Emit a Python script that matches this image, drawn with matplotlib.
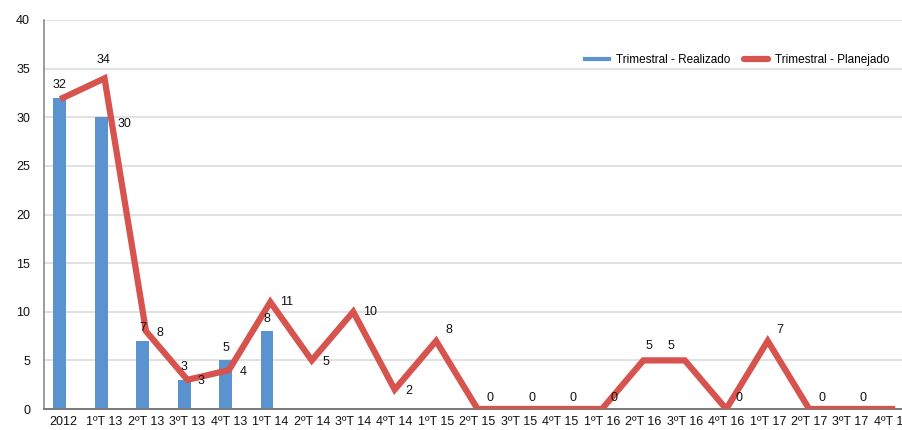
import numpy as np
import matplotlib.pyplot as plt
from matplotlib.lines import Line2D

plt.rcParams['font.family'] = ['Liberation Sans', 'DejaVu Sans']

# Dados
categorias = ['2012', '1ºT 13', '2ºT 13', '3ºT 13', '4ºT 13',
              '1ºT 14', '2ºT 14', '3ºT 14', '4ºT 14',
              '1ºT 15', '2ºT 15', '3ºT 15', '4ºT 15',
              '1ºT 16', '2ºT 16', '3ºT 16', '4ºT 16',
              '1ºT 17', '2ºT 17', '3ºT 17', '4ºT 17']
realizado = [32, 30, 7, 3, 5, 8]
planejado = [32, 34, 8, 3, 4, 11, 5, 10, 2, 7, 0, 0, 0, 0, 5, 5, 0, 7, 0, 0, 0]
rotulos_planejado = ['32', '34', '8', '3', '4', '11', '5', '10', '2', '8', '0',
                     '0', '0', '0', '5', '5', '0', '7', '0', '0', '0']

azul = '#5b93d1'
vermelho = '#d6534e'

fig = plt.figure(figsize=(9.02, 4.30), dpi=100)
ax = fig.add_axes([0.0488, 0.0488, 0.9512, 0.9047])

x = np.arange(len(categorias))
xb = x[:len(realizado)] - 0.08
ax.bar(xb, realizado, width=0.31, color=azul, zorder=2)
ax.plot(x, planejado, color=vermelho, linewidth=4.5, solid_joinstyle='miter', zorder=3)

# rótulos das barras
for i, v in enumerate(realizado):
    if i == 1:
        off = (17, -5)
    else:
        off = (0, 9)
    ax.annotate(str(v), (xb[i], v), xytext=off, textcoords='offset points',
                ha='center', va='center', fontsize=9, color='#111111', zorder=4)

# rótulos da linha
for i, (v, t) in enumerate(zip(planejado, rotulos_planejado)):
    if i == 0:
        continue
    if i == 1:
        off = (-1, 13)
    elif i in (14, 15):
        off = (4 if i == 14 else -10, 10)
    elif v == 0 or i in (9, 17):
        off = (9, 8)
    elif i in (5, 7):
        off = (12, 0)
    else:
        off = (10, -1)
    ax.annotate(t, (x[i], v), xytext=off, textcoords='offset points',
                ha='center', va='center', fontsize=9, color='#111111', zorder=4)

ax.set_xlim(-0.46, 20.24)
ax.set_ylim(0, 40)
ax.set_yticks(np.arange(0, 41, 5))
ax.set_xticks(x)
ax.set_xticklabels(categorias)
ax.tick_params(axis='both', length=0, labelsize=9, colors='#111111')
ax.tick_params(axis='x', pad=5)
ax.tick_params(axis='y', pad=10)
ax.grid(axis='y', color='#dcdcdc', linewidth=1.2, zorder=0)
ax.set_axisbelow(True)
for s in ['top', 'right']:
    ax.spines[s].set_visible(False)
ax.spines['left'].set_color('#8c8c8c')
ax.spines['left'].set_linewidth(1.2)
ax.spines['bottom'].set_color('#7a7a7a')
ax.spines['bottom'].set_linewidth(1.4)

handles = [Line2D([0], [0], color=azul, linewidth=3),
           Line2D([0], [0], color=vermelho, linewidth=4.5, solid_capstyle='round')]
ax.legend(handles, ['Trimestral - Realizado', 'Trimestral - Planejado'],
          loc='center right', bbox_to_anchor=(0.998, 0.86), bbox_transform=fig.transFigure,
          ncol=2, frameon=False, fontsize=8.5, handlelength=2.0, handletextpad=0.6,
          columnspacing=1.2)

plt.savefig('out.png', dpi=100)
